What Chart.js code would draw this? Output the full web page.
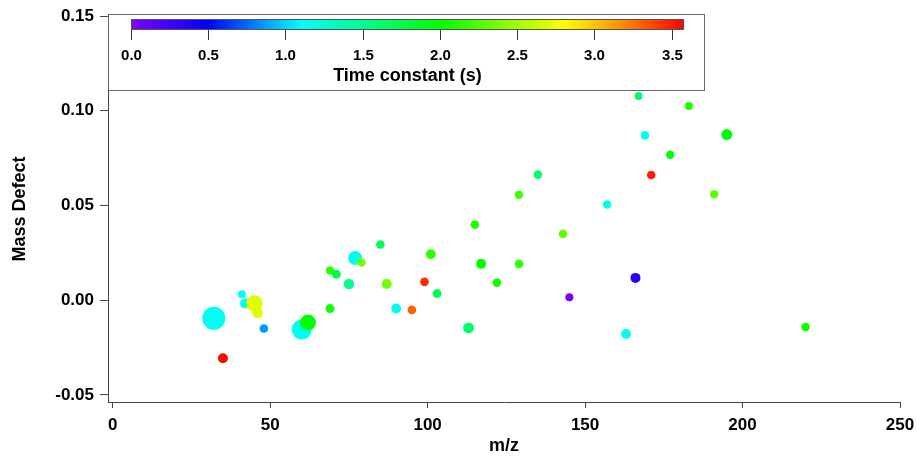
<!DOCTYPE html>
<html><head><meta charset="utf-8">
<script src="https://cdn.jsdelivr.net/npm/chart.js@4.4.0/dist/chart.umd.min.js"></script>
<style>html,body{margin:0;padding:0;background:#fff;overflow:hidden}</style>
</head><body>
<canvas id="c" width="919" height="456" style="display:block;width:919px;height:456px"></canvas>
<script>
// ---- data ----
const mz = [32.1,35.0,41.0,42.0,45.0,46.0,48.0,60.0,62.0,69.0,69.0,71.0,75.0,77.0,79.0,85.0,87.0,90.0,99.0,95.0,101.0,103.0,113.0,115.0,117.0,122.0,129.0,129.0,135.0,143.0,145.0,157.0,163.0,166.0,167.0,169.0,171.0,177.0,183.0,191.0,195.0,220.0];
const massDefect = [-0.0095,-0.0306,0.0032,-0.0017,-0.0017,-0.0067,-0.0149,-0.0155,-0.0118,-0.0044,0.0157,0.0137,0.0086,0.0223,0.0199,0.0294,0.0086,-0.0044,0.0097,-0.0051,0.0243,0.0035,-0.0146,0.0399,0.0192,0.0093,0.0192,0.0557,0.0663,0.0350,0.0016,0.0505,-0.0178,0.0118,0.1078,0.0870,0.0661,0.0768,0.1025,0.0559,0.0874,-0.0141];
const timeConstant = [1.15,3.55,1.1,1.15,2.7,2.7,0.86,1.15,2.0,2.05,2.15,1.75,1.5,1.15,2.4,1.7,2.35,1.15,3.45,3.3,2.15,1.7,1.6,2.1,2.0,2.05,2.15,2.2,1.6,2.3,0.05,1.2,1.15,0.35,1.6,1.15,3.5,1.95,2.1,2.3,2.0,2.05];
const signalSize = [11.5,5,4,5,8.3,5.3,4.3,10,8,4.5,4.2,4.5,5.3,7,4.3,4.3,5,5,4.3,4.3,5,4.5,5.5,4.3,5,4.3,4.3,4.3,4.3,4.3,4,4.3,5,5,4,4.3,4.3,4.3,4,4.3,5.5,4.3];
const xTicks = [0,50,100,150,200,250];
const yTicks = [-0.05,0.00,0.05,0.10,0.15];
const cbTicks = [0.0,0.5,1.0,1.5,2.0,2.5,3.0,3.5];
const cbMin = 0, cbMax = 3.58;

// ---- colour map (rainbow) ----
const stops = [[0,[128,0,255]],[0.5,[0,0,255]],[1.1,[0,255,255]],[2.0,[0,255,0]],[2.8,[255,255,0]],[3.15,[255,150,0]],[3.58,[255,0,0]]];
function cmap(v){
  if (v<=stops[0][0]) return 'rgb('+stops[0][1].join(',')+')';
  for (let i=1;i<stops.length;i++){
    if (v<=stops[i][0]){
      const a=stops[i-1], b=stops[i], t=(v-a[0])/(b[0]-a[0]);
      const c=a[1].map((x,k)=>Math.round(x+(b[1][k]-x)*t));
      return 'rgb('+c.join(',')+')';
    }
  }
  return 'rgb('+stops[stops.length-1][1].join(',')+')';
}

const FONT = "'Liberation Sans', Arial, sans-serif";
const AX = '#444';

const colorbar = {
  id:'colorbar',
  afterDraw(chart){
    const ctx = chart.ctx;
    const bx0=108, by0=14, bx1=704, by1=90;
    const x0=131, x1=684, y0=19, y1=30;
    ctx.save();
    ctx.fillStyle='#fff';
    ctx.fillRect(bx0,by0,bx1-bx0,by1-by0);
    ctx.strokeStyle='#666'; ctx.lineWidth=1;
    ctx.strokeRect(bx0+0.5,by0+0.5,bx1-bx0,by1-by0);
    const px = v => x0 + (v-cbMin)/(cbMax-cbMin)*(x1-x0);
    for (let x=x0;x<x1;x++){
      const v = cbMin + (x+0.5-x0)/(x1-x0)*(cbMax-cbMin);
      ctx.fillStyle=cmap(v);
      ctx.fillRect(x,y0,1,y1-y0);
    }
    ctx.strokeStyle='#555';
    ctx.strokeRect(x0+0.5,y0+0.5,x1-x0-1,y1-y0-1);
    ctx.strokeStyle='#333';
    ctx.fillStyle='#000';
    ctx.font='bold 15px '+FONT;
    ctx.textAlign='center'; ctx.textBaseline='middle';
    cbTicks.forEach(v=>{
      const x=Math.round(px(v))+0.5;
      ctx.beginPath(); ctx.moveTo(x,y1); ctx.lineTo(x,y1+10); ctx.stroke();
      ctx.fillText(v.toFixed(1), x, 56);
    });
    ctx.font='bold 18px '+FONT;
    ctx.fillText('Time constant (s)', (x0+x1)/2, 76);
    ctx.restore();
  }
};

const tickFont = {family:FONT, weight:'bold', size:17};
const titleFont = {family:FONT, weight:'bold', size:18};

new Chart(document.getElementById('c'), {
  type:'scatter',
  data:{datasets:[{
    data: mz.map((x,i)=>({x:x, y:massDefect[i]})),
    pointRadius: c => signalSize[c.dataIndex],
    pointHoverRadius: c => signalSize[c.dataIndex],
    pointBackgroundColor: c => cmap(timeConstant[c.dataIndex]),
    pointBorderWidth: 0,
    borderWidth: 0
  }]},
  options:{
    responsive:false, animation:false,
    layout:{padding:{left:0,top:16,right:19,bottom:0}},
    plugins:{legend:{display:false}, tooltip:{enabled:false}},
    scales:{
      x:{
        type:'linear', min:-1.5, max:250,
        afterBuildTicks: s => { s.ticks = xTicks.map(v=>({value:v})); },
        afterFit: s => { s.height = 54; s.paddingLeft = 0; s.paddingRight = 0; },
        grid:{display:true, drawOnChartArea:false, drawTicks:true, tickLength:6, color:AX, lineWidth:1},
        border:{display:true, color:AX, width:1},
        ticks:{font:tickFont, color:'#000', padding:7, maxRotation:0, autoSkip:false, callback:v=>String(v)},
        title:{display:true, text:'m/z', font:titleFont, color:'#000', padding:{top:0,bottom:-1}}
      },
      y:{
        type:'linear', min:-0.0537, max:0.15,
        afterBuildTicks: s => { s.ticks = yTicks.map(v=>({value:v})); },
        afterFit: s => { s.width = 108; s.paddingTop = 0; s.paddingBottom = 0; },
        grid:{display:true, drawOnChartArea:false, drawTicks:true, tickLength:8, color:AX, lineWidth:1},
        border:{display:true, color:AX, width:1},
        ticks:{font:tickFont, color:'#000', padding:6, autoSkip:false, callback:v=>Number(v).toFixed(2)},
        title:{display:true, text:'Mass Defect', font:titleFont, color:'#000', padding:{top:9,bottom:0}}
      }
    }
  },
  plugins:[colorbar]
});
</script>
</body></html>
